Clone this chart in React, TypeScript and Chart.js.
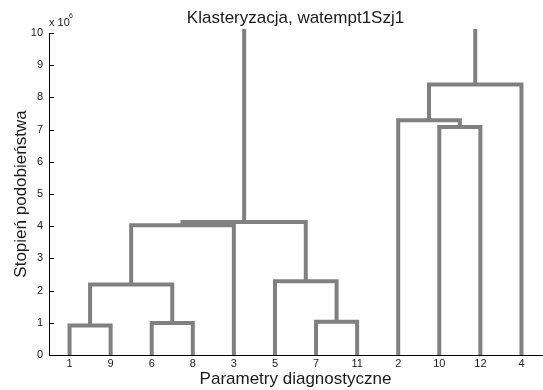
import React, { useEffect, useRef } from "react";
import { Chart, registerables } from "chart.js";

Chart.register(...registerables);

// Leaf order along the x axis (dendrogram leaf labels)
const leafLabels = ["1", "9", "6", "8", "3", "5", "7", "11", "2", "10", "12", "4"];
// Linkage: node ids 0..11 are leaves (by position), 12+ are merged clusters in order
const mergeLeft = [0, 2, 12, 14, 6, 5, 15, 9, 8, 20, 18];
const mergeRight = [1, 3, 13, 4, 7, 16, 17, 10, 19, 11, 21];
// Merge heights, in units of 10^6
const mergeHeight = [0.92, 0.99, 2.19, 4.03, 1.03, 2.29, 4.13, 7.08, 7.29, 8.4, 12];
const yTicks = [0, 1, 2, 3, 4, 5, 6, 7, 8, 9, 10];

const FONT = "'Liberation Sans', Arial, Helvetica, sans-serif";
const LINE_COLOR = "rgb(128,128,130)";
const TEXT_COLOR = "#1a1a1a";

function buildDatasets() {
  const n = leafLabels.length;
  const nodeX: number[] = leafLabels.map((_, i) => i + 1);
  const nodeH: number[] = leafLabels.map(() => 0);
  const datasets: any[] = [];
  mergeHeight.forEach((h, k) => {
    const a = mergeLeft[k];
    const b = mergeRight[k];
    const xa = nodeX[a];
    const xb = nodeX[b];
    datasets.push({
      data: [
        { x: xa, y: nodeH[a] },
        { x: xa, y: h },
        { x: xb, y: h },
        { x: xb, y: nodeH[b] },
      ],
      borderColor: LINE_COLOR,
      backgroundColor: LINE_COLOR,
      borderWidth: 4,
      borderJoinStyle: "miter",
      borderCapStyle: "butt",
      pointRadius: 0,
      tension: 0,
      fill: false,
      clip: { left: 0, top: 4, right: 0, bottom: 0 },
    });
    nodeX[n + k] = (xa + xb) / 2;
    nodeH[n + k] = h;
  });
  return datasets;
}

const extrasPlugin = {
  id: "matlabExtras",
  afterDraw(chart: any) {
    const { ctx, chartArea, scales } = chart;
    const y = scales.y;
    ctx.save();
    // inner tick marks on the y axis
    ctx.strokeStyle = "#000";
    ctx.lineWidth = 1;
    yTicks.forEach((v) => {
      const py = Math.round(y.getPixelForValue(v)) + 0.5;
      ctx.beginPath();
      ctx.moveTo(chartArea.left, py);
      ctx.lineTo(chartArea.left + 5, py);
      ctx.stroke();
    });
    // exponent label
    ctx.fillStyle = TEXT_COLOR;
    ctx.textBaseline = "alphabetic";
    ctx.textAlign = "left";
    ctx.font = `11px ${FONT}`;
    ctx.fillText("x 10", chartArea.left, 26);
    ctx.font = `7px ${FONT}`;
    ctx.fillText("6", chartArea.left + 20, 18);
    ctx.restore();
  },
};

export default function App() {
  const canvasRef = useRef<HTMLCanvasElement | null>(null);

  useEffect(() => {
    document.body.style.margin = "0";
    const canvas = canvasRef.current;
    if (!canvas) return;
    const chart = new Chart(canvas, {
      type: "line",
      data: { datasets: buildDatasets() },
      options: {
        animation: false,
        responsive: false,
        devicePixelRatio: 1,
        layout: { padding: { left: 0, right: 1, top: 0, bottom: 0 } },
        plugins: {
          legend: { display: false },
          tooltip: { enabled: false },
          title: {
            display: true,
            fullSize: false,
            text: "Klasteryzacja, watempt1Szj1",
            color: TEXT_COLOR,
            font: { family: FONT, size: 17, weight: "normal" },
            padding: { top: 8, bottom: 4.6 },
          },
        },
        scales: {
          x: {
            type: "linear",
            min: 0.5,
            max: 12.5,
            z: 1,
            afterBuildTicks: (s: any) => {
              s.ticks = leafLabels.map((_, i) => ({ value: i + 1 }));
            },
            afterFit: (s: any) => {
              s.height = 35;
            },
            ticks: {
              autoSkip: false,
              maxRotation: 0,
              padding: 2,
              color: TEXT_COLOR,
              font: { family: FONT, size: 11 },
              callback: (v: any) => leafLabels[Math.round(Number(v)) - 1] ?? "",
            },
            grid: { display: true, drawOnChartArea: false, drawTicks: false },
            border: { display: true, color: "#000", width: 1 },
            title: {
              display: true,
              text: "Parametry diagnostyczne",
              color: TEXT_COLOR,
              font: { family: FONT, size: 17 },
              padding: { top: 0, bottom: 0 },
            },
          },
          y: {
            type: "linear",
            min: 0,
            max: 10,
            z: 1,
            afterBuildTicks: (s: any) => {
              s.ticks = yTicks.map((v) => ({ value: v }));
            },
            afterFit: (s: any) => {
              s.width = 49;
            },
            ticks: {
              padding: 6,
              color: TEXT_COLOR,
              font: { family: FONT, size: 11 },
              callback: (v: any) => String(v),
            },
            grid: { display: true, drawOnChartArea: false, drawTicks: false },
            border: { display: true, color: "#000", width: 1 },
            title: {
              display: true,
              text: "Stopień podobieństwa",
              color: TEXT_COLOR,
              font: { family: FONT, size: 17 },
              padding: { top: 11, bottom: 0 },
            },
          },
        },
      },
      plugins: [extrasPlugin],
    } as any);
    return () => chart.destroy();
  }, []);

  return (
    <div style={{ position: "absolute", left: 0, top: 0, width: 543, height: 390, background: "#fff" }}>
      <canvas ref={canvasRef} width={543} height={390} />
    </div>
  );
}
